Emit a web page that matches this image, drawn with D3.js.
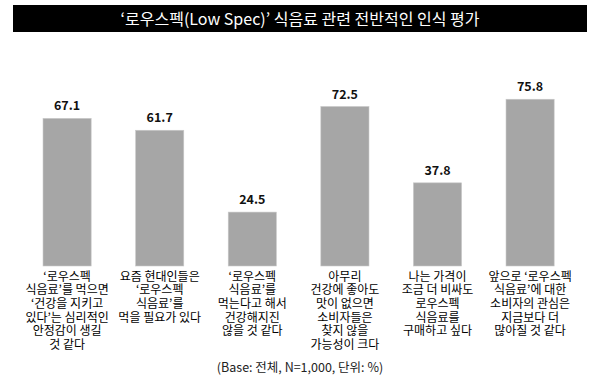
<!DOCTYPE html>
<html>
<head>
<meta charset="utf-8">
<script src="https://cdn.jsdelivr.net/npm/d3@7"></script>
<style>
  body { margin: 0; background: #fff; }
  text { font-family: "Noto Sans CJK KR", "Noto Sans", sans-serif; }
</style>
</head>
<body>
<svg width="600" height="384"></svg>
<script>
let svg = d3.select("svg");

const title = "‘로우스펙(Low Spec)’ 식음료 관련 전반적인 인식 평가";
const footnote = "(Base: 전체, N=1,000, 단위: %)";

const categories = [
  ["‘로우스펙", "식음료’를 먹으면", "‘건강을 지키고", "있다’는 심리적인", "안정감이 생길", "것 같다"],
  ["요즘 현대인들은", "‘로우스펙", "식음료’를", "먹을 필요가 있다"],
  ["‘로우스펙", "식음료’를", "먹는다고 해서", "건강해지진", "않을 것 같다"],
  ["아무리", "건강에 좋아도", "맛이 없으면", "소비자들은", "찾지 않을", "가능성이 크다"],
  ["나는 가격이", "조금 더 비싸도", "로우스펙", "식음료를", "구매하고 싶다"],
  ["앞으로 ‘로우스펙", "식음료’에 대한", "소비자의 관심은", "지금보다 더", "많아질 것 같다"]
];
const values = [67.1, 61.7, 24.5, 72.5, 37.8, 75.8];

let baseline = 266;

let xScale = d3.scaleBand()
  .domain(d3.range(values.length))
  .range([20.8, 576.4])
  .paddingInner(0.48)
  .paddingOuter(0.24);

let yScale = d3.scaleLinear().domain([0, 100]).range([baseline, 46]);

// title bar
svg.append("rect")
  .attr("x", 13).attr("y", 5)
  .attr("width", 574).attr("height", 27)
  .attr("fill", "#000");

svg.append("text")
  .attr("x", 300).attr("y", 24.5)
  .attr("text-anchor", "middle")
  .attr("fill", "#fff")
  .attr("font-size", 16)
  .text(title);

let g = svg.append("g");

g.selectAll(".bar")
  .data(values)
  .enter().append("rect")
  .attr("class", "bar")
  .attr("x", (d, i) => xScale(i))
  .attr("y", d => yScale(d))
  .attr("width", xScale.bandwidth())
  .attr("height", d => baseline - yScale(d))
  .attr("fill", "#a6a6a6")
  .attr("stroke", "#c8c8c8")
  .attr("stroke-width", 0.6);

g.selectAll(".value")
  .data(values)
  .enter().append("text")
  .attr("class", "value")
  .attr("x", (d, i) => xScale(i) + xScale.bandwidth() / 2)
  .attr("y", d => yScale(d) - 8)
  .attr("text-anchor", "middle")
  .attr("font-family", "Lato, sans-serif")
  .attr("font-weight", "bold")
  .attr("font-size", 12.5)
  .attr("fill", "#111")
  .text(d => d.toFixed(1));

categories.forEach((lines, i) => {
  let t = g.append("text")
    .attr("text-anchor", "middle")
    .attr("font-size", 12)
    .attr("fill", "#000");
  lines.forEach((ln, j) => {
    t.append("tspan")
      .attr("x", xScale(i) + xScale.bandwidth() / 2)
      .attr("y", 280.5 + j * 13.7)
      .text(ln);
  });
});

svg.append("text")
  .attr("x", 300).attr("y", 372)
  .attr("text-anchor", "middle")
  .attr("font-size", 12.5)
  .attr("fill", "#222")
  .text(footnote);
</script>
</body>
</html>
